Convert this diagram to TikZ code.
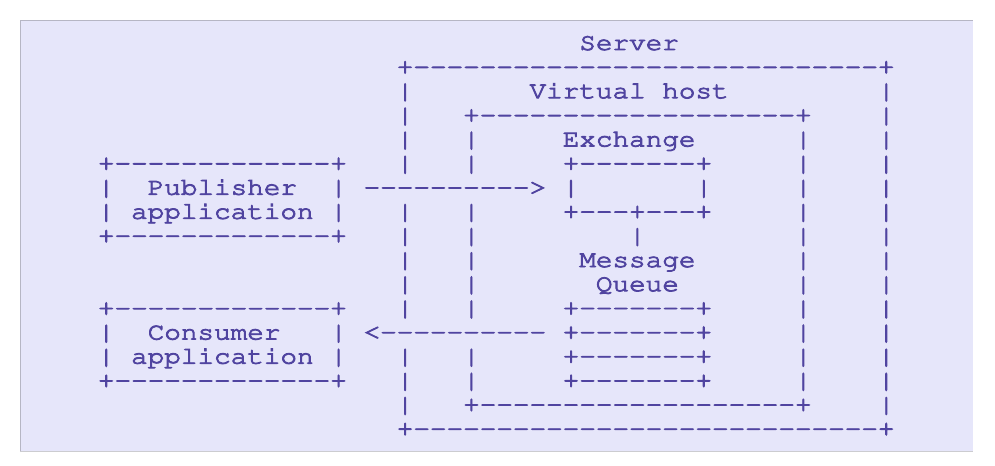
\documentclass[tikz,border=0pt]{standalone}
\usepackage[T1,TU]{fontenc}
\usepackage{graphicx}
\usetikzlibrary{positioning}

\definecolor{inkblue}{RGB}{80,68,160}
\definecolor{bgviolet}{RGB}{230,230,250}
\definecolor{edgegray}{RGB}{182,182,196}
\definecolor{floorgray}{RGB}{204,204,208}

\newcommand{\monofont}{\fontencoding{T1}\fontfamily{pcr}\fontsize{13.77}{16}\selectfont}
% text filled and stroked a little, a bit heavier than plain Courier
\newcommand{\asciirow}[1]{\special{pdf:literal direct 2 Tr 0.45 w}\scalebox{1.143}[1]{#1}\special{pdf:literal direct 0 Tr}}
% dashes one by one, so that no -- ligature forms
\ExplSyntaxOn
\NewDocumentCommand{\dashes}{m}{\prg_replicate:nn{#1}{-\relax}}
\ExplSyntaxOff

\begin{document}
\begin{tikzpicture}[x=0.02cm,y=-0.02cm,node distance=0.4825cm,
    row/.style={inner sep=0pt,text height=0.24cm,text depth=0.24cm,text=inkblue,font=\monofont}]

    \useasboundingbox (0,0) rectangle (995,466);
    \fill[white] (0,0) rectangle (995,466);
    \fill[bgviolet] (20,20) rectangle (973,452);
    \draw[edgegray, line width=0.03cm] (20.7,452) -- (20.7,20.7) -- (973,20.7);
    \draw[floorgray, line width=0.03cm] (20,451.3) -- (973,451.3);

    % server side
    \node[row] (r0) at (629.1,50) {\asciirow{~~~~~~~~~~~~~Server~~~~~~~~~~~~~}};
    \node[row] (r1) [below of = r0] {\asciirow{~~+\dashes{28}+}};
    \node[row] (r2) [below of = r1] {\asciirow{~~|~~~~~~~Virtual~host~~~~~~~~~|}};
    \node[row] (r3) [below of = r2] {\asciirow{~~|~~~+\dashes{19}+~~~~|}};
    \node[row] (r4) [below of = r3] {\asciirow{~~|~~~|~~~~~Exchange~~~~~~|~~~~|}};
    \node[row] (r5) [below of = r4] {\asciirow{~~|~~~|~~~~~+\dashes{7}+~~~~~|~~~~|}};
    \node[row] (r6) [below of = r5] {\asciirow{\dashes{10}>~|~~~~~~~|~~~~~|~~~~|}};
    \node[row] (r7) [below of = r6] {\asciirow{~~|~~~|~~~~~+\dashes{3}+\dashes{3}+~~~~~|~~~~|}};
    \node[row] (r8) [below of = r7] {\asciirow{~~|~~~|~~~~~~~~~|~~~~~~~~~|~~~~|}};
    \node[row] (r9) [below of = r8] {\asciirow{~~|~~~|~~~~~~Message~~~~~~|~~~~|}};
    \node[row] (r10) [below of = r9] {\asciirow{~~|~~~|~~~~~~~Queue~~~~~~~|~~~~|}};
    \node[row] (r11) [below of = r10] {\asciirow{~~|~~~|~~~~~+\dashes{7}+~~~~~|~~~~|}};
    \node[row] (r12) [below of = r11] {\asciirow{<\dashes{10}~+\dashes{7}+~~~~~|~~~~|}};
    \node[row] (r13) [below of = r12] {\asciirow{~~|~~~|~~~~~+\dashes{7}+~~~~~|~~~~|}};
    \node[row] (r14) [below of = r13] {\asciirow{~~|~~~|~~~~~+\dashes{7}+~~~~~|~~~~|}};
    \node[row] (r15) [below of = r14] {\asciirow{~~|~~~+\dashes{19}+~~~~|}};
    \node[row] (r16) [below of = r15] {\asciirow{~~+\dashes{28}+}};

    % publisher
    \node[row] (pub1) at (222.4,170.6) {\asciirow{+\dashes{13}+}};
    \node[row] (pub2) [below of = pub1] {\asciirow{|~~Publisher~~|}};
    \node[row] (pub3) [below of = pub2] {\asciirow{|~application~|}};
    \node[row] (pub4) [below of = pub3] {\asciirow{+\dashes{13}+}};

    % consumer
    \node[row] (con1) at (222.4,315.4) {\asciirow{+\dashes{13}+}};
    \node[row] (con2) [below of = con1] {\asciirow{|~~Consumer~~~|}};
    \node[row] (con3) [below of = con2] {\asciirow{|~application~|}};
    \node[row] (con4) [below of = con3] {\asciirow{+\dashes{13}+}};

\end{tikzpicture}
\end{document}
